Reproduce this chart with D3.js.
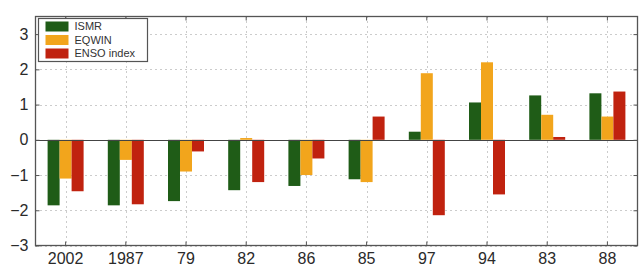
<!DOCTYPE html>
<html><head><meta charset="utf-8">
<script src="https://cdn.jsdelivr.net/npm/d3@7"></script>
<style>body{margin:0;background:#fff}svg{display:block}</style>
</head><body>
<script>
const categories = ["2002","1987","79","82","86","85","97","94","83","88"];
const ismr = [-1.86,-1.86,-1.74,-1.43,-1.31,-1.12,0.23,1.06,1.26,1.32];
const eqwin = [-1.1,-0.57,-0.9,0.05,-1.0,-1.2,1.89,2.2,0.71,0.66];
const enso = [-1.46,-1.83,-0.33,-1.2,-0.53,0.66,-2.14,-1.55,0.08,1.37];
const seriesNames = ["ISMR","EQWIN","ENSO index"];
const yTicks = [-3,-2,-1,0,1,2,3];

const colors = ["#1f5c17","#f2a51c","#c0220f"];
const W=640,H=269, L=35.5, R=637.5, T=16.5, B=245.5;
const svg=d3.select("body").append("svg").attr("width",W).attr("height",H);
const x=d3.scaleBand().domain(categories).range([L,R]).padding(0);
const y=d3.scaleLinear().domain([-3,3.5]).range([B,T]);
const series=[ismr,eqwin,enso];
const font="'Liberation Sans',Arial,sans-serif";

const g=svg.append("g");
// grid
g.selectAll(".gy").data(yTicks).join("line")
 .attr("x1",L).attr("x2",R).attr("y1",d=>Math.round(y(d))+0.5).attr("y2",d=>Math.round(y(d))+0.5)
 .attr("stroke","#999").attr("stroke-width",1).attr("stroke-dasharray","1,4");
g.selectAll(".gx").data(categories).join("line")
 .attr("y1",T).attr("y2",B).attr("x1",d=>Math.round(x(d)+x.bandwidth()/2)+0.5).attr("x2",d=>Math.round(x(d)+x.bandwidth()/2)+0.5)
 .attr("stroke","#999").attr("stroke-width",1).attr("stroke-dasharray","1,4");

// bars
const bw=12;
series.forEach((s,i)=>{
  g.selectAll(".b"+i).data(s).join("rect")
   .attr("x",(d,j)=>x(categories[j])+x.bandwidth()/2-18+i*bw)
   .attr("width",bw)
   .attr("y",d=>y(Math.max(0,d)))
   .attr("height",d=>Math.abs(y(d)-y(0)))
   .attr("fill",colors[i]);
});
// zero line
g.append("line").attr("x1",L).attr("x2",R).attr("y1",Math.round(y(0))+0.5).attr("y2",Math.round(y(0))+0.5)
 .attr("stroke","#444").attr("stroke-width",1.2);

// frame
svg.append("rect").attr("x",L).attr("y",T).attr("width",R-L).attr("height",B-T)
 .attr("fill","none").attr("stroke","#555").attr("stroke-width",1.3);

// axes
const yAxis=d3.axisLeft(y).tickValues(yTicks).tickSize(-4).tickPadding(7).tickFormat(d3.format("d"));
const ya=svg.append("g").attr("transform",`translate(${L},0)`).call(yAxis);
const yr=svg.append("g").attr("transform",`translate(${R},0)`).call(d3.axisRight(y).tickValues(yTicks).tickSize(-4).tickFormat(""));
const xAxis=d3.axisBottom(x).tickSize(-4).tickPadding(7);
const xa=svg.append("g").attr("transform",`translate(0,${B})`).call(xAxis);
const xt=svg.append("g").attr("transform",`translate(0,${T})`).call(d3.axisTop(x).tickSize(-4).tickFormat(""));
[ya,yr,xa,xt].forEach(a=>{a.select(".domain").remove();a.selectAll("line").attr("stroke","#555");
  a.selectAll("text").attr("fill","#2a2a2a").style("font-family",font).style("font-size","16px");});
xa.selectAll("text").attr("dy","0.71em");

// legend
const lg=svg.append("g").attr("transform","translate(38.5,18.5)");
lg.append("rect").attr("width",109).attr("height",43).attr("fill","#fff").attr("stroke","#555").attr("stroke-width",1.2);
seriesNames.forEach((n,i)=>{
  lg.append("rect").attr("x",7).attr("y",3+i*13.5).attr("width",23).attr("height",10).attr("fill",colors[i]);
  lg.append("text").attr("x",36).attr("y",8+i*13.5).attr("dy","0.35em").text(n)
   .attr("fill","#333").style("font-family",font).style("font-size","11px");
});
</script>
</body></html>
